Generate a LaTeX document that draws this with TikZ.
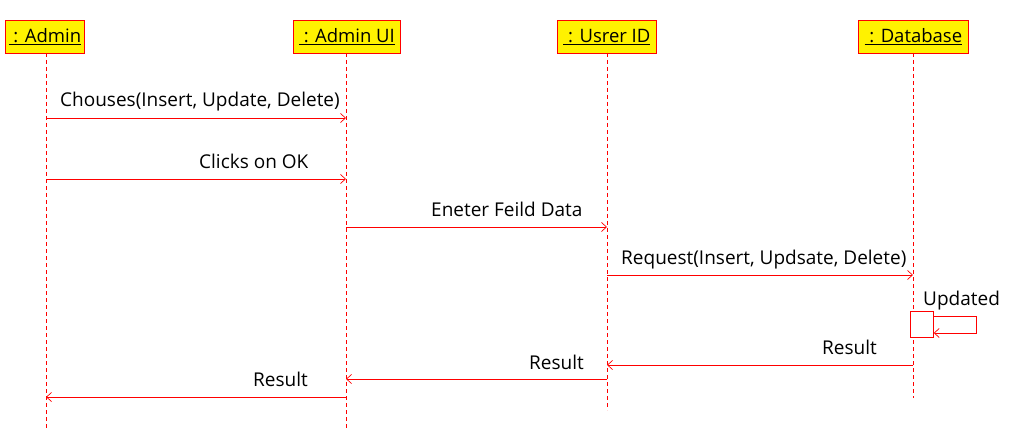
\documentclass[tikz,border=0pt]{standalone}
\usepackage{fontspec}
\setmainfont{Open Sans}
\usetikzlibrary{arrows.meta}
\begin{document}
\begin{tikzpicture}[x=1pt,y=-1pt,
  obj/.style={draw=red,fill=yellow,line width=0.8pt,minimum height=33pt,inner sep=0pt,font=\fontsize{18.5}{20}\selectfont,anchor=north west},
  life/.style={draw=red,dashed,dash pattern=on 4pt off 3pt,line width=0.7pt},
  msg/.style={draw=red,line width=0.7pt,-{Straight Barb[length=5pt,width=9pt]}},
  lbl/.style={font=\fontsize{19}{21}\selectfont,anchor=base west,inner sep=0pt}]
\useasboundingbox (0,0) rectangle (1010,441);
\node[obj,minimum width=79pt] (admin) at (5,20) {\underline{\ : Admin}};
\node[obj,minimum width=107pt] (ui) at (293,20) {\underline{\ : Admin UI}};
\node[obj,minimum width=99pt] (uid) at (557,20) {\underline{\ : Usrer ID}};
\node[obj,minimum width=110pt] (db) at (858,20) {\underline{\ : Database}};
\coordinate (adminEnd) at (46,430);
\coordinate (uiEnd) at (346,430);
\coordinate (uidEnd) at (607,410);
\coordinate (dbEnd) at (913,398);
\draw[life] (46,53) -- (adminEnd);
\draw[life] (346,53) -- (uiEnd);
\draw[life] (607,53) -- (uidEnd);
\draw[life] (913,53) -- (dbEnd);
% message points
\coordinate (m1a) at (46,118); \coordinate (m1b) at (346,118);
\coordinate (m2a) at (46,179); \coordinate (m2b) at (346,179);
\coordinate (m3a) at (346,227); \coordinate (m3b) at (607,227);
\coordinate (m4a) at (607,275); \coordinate (m4b) at (913,275);
\coordinate (m6a) at (913,365); \coordinate (m6b) at (607,365);
\coordinate (m7a) at (607,379); \coordinate (m7b) at (346,379);
\coordinate (m8a) at (346,397); \coordinate (m8b) at (46,397);
\draw[msg] (m1a) -- (m1b);
\draw[msg] (m2a) -- (m2b);
\draw[msg] (m3a) -- (m3b);
\draw[msg] (m4a) -- (m4b);
\draw[msg] (m6a) -- (m6b);
\draw[msg] (m7a) -- (m7b);
\draw[msg] (m8a) -- (m8b);
\node[lbl] (l1) at (60,107) {Chouses(Insert, Update, Delete)};
\node[lbl] (l2) at (199,168) {Clicks on OK};
\node[lbl] (l3) at (431,216) {Eneter Feild Data};
\node[lbl] (l4) at (621,264) {Request(Insert, Updsate, Delete)};
\node[lbl] (l5) at (923,305) {Updated};
\node[lbl] (l6) at (822,354) {Result};
\node[lbl] (l7) at (529,369) {Result};
\node[lbl] (l8) at (253,386) {Result};
% self message
\node[draw=red,fill=white,line width=0.7pt,minimum width=23pt,minimum height=26pt,inner sep=0pt,anchor=north west] (act) at (910,311) {};
\coordinate (s1) at (976,316);
\coordinate (s2) at (976,333);
\draw[msg] (act.north east |- 0,316) -- (s1) -- (s2) -- (act.east |- 0,333);
\end{tikzpicture}
\end{document}
